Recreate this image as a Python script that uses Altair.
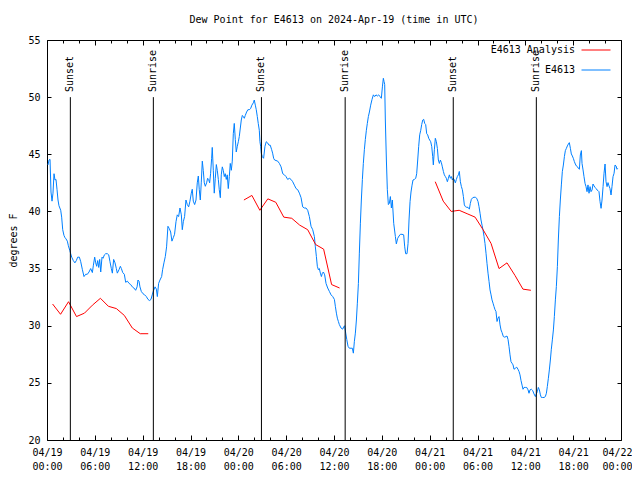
import altair as alt
import pandas as pd

# ---------------- data ----------------
obs_hours = [
    0.13, 0.25, 0.38, 0.5, 0.63, 0.75, 0.88, 1.0, 1.13, 1.26, 1.38, 1.5, 1.72, 1.84, 1.97, 2.13, 2.26, 2.38,
    2.55, 2.68, 2.85, 2.97, 3.1, 3.3, 3.5, 3.68, 3.85, 4.06, 4.23, 4.44, 4.64, 4.85, 5.06, 5.27, 5.48, 5.69,
    5.82, 5.98, 6.11, 6.23, 6.36, 6.48, 6.61, 6.74, 6.9, 7.03, 7.2, 7.36, 7.57, 7.74, 7.9, 8.07, 8.2, 8.36,
    8.53, 8.7, 8.82, 9.03, 9.2, 9.33, 9.5, 9.7, 9.87, 10.08, 10.3, 10.5, 10.7, 10.9, 11.12, 11.3, 11.41,
    11.54, 11.66, 11.83, 12.04, 12.25, 12.46, 12.67, 12.87, 13.04, 13.2, 13.38, 13.55, 13.72, 13.84, 14.0,
    14.17, 14.38, 14.5, 14.67, 14.84, 15.0, 15.17, 15.34, 15.51, 15.67, 15.84, 16.0, 16.18, 16.34, 16.51,
    16.68, 16.85, 16.97, 17.1, 17.26, 17.43, 17.6, 17.77, 17.93, 18.1, 18.22, 18.35, 18.52, 18.69, 18.85,
    18.98, 19.1, 19.23, 19.35, 19.48, 19.6, 19.73, 19.86, 20.02, 20.15, 20.27, 20.4, 20.52, 20.65, 20.73,
    20.86, 20.98, 21.11, 21.24, 21.36, 21.49, 21.61, 21.74, 21.86, 21.99, 22.11, 22.24, 22.36, 22.49, 22.61,
    22.74, 22.87, 22.99, 23.12, 23.24, 23.37, 23.49, 23.62, 23.74, 23.87, 24.0, 24.12, 24.25, 24.37, 24.5,
    24.62, 24.75, 24.87, 25.04, 25.2, 25.37, 25.54, 25.7, 25.88, 26.0, 26.13, 26.25, 26.38, 26.5, 26.63,
    26.71, 26.8, 26.88, 27.0, 27.17, 27.34, 27.5, 27.67, 27.84, 28.0, 28.18, 28.3, 28.43, 28.55,
    28.94, 29.15, 29.36, 29.57, 29.78, 29.98, 30.19, 30.4, 30.61, 30.82, 31.03, 31.24, 31.45, 31.66, 31.87,
    32.07, 32.28, 32.49, 32.7, 32.91, 33.12, 33.33, 33.54, 33.66, 33.79, 33.91, 34.04, 34.16, 34.29, 34.42,
    34.54, 34.67, 34.83, 35.0, 35.21, 35.42, 35.63, 35.84, 36.05, 36.17, 36.3, 36.42, 36.55, 36.67, 36.88,
    37.09, 37.22, 37.34, 37.47, 37.6, 37.76, 37.93, 38.14, 38.3, 38.43, 38.55, 38.68, 38.81, 38.93, 39.06,
    39.18, 39.31, 39.43, 39.56, 39.68, 39.81, 39.93, 40.06, 40.18, 40.31, 40.44, 40.6, 40.77, 40.94, 41.1,
    41.27, 41.44, 41.6, 41.77, 41.94, 42.07, 42.19, 42.28, 42.36, 42.44, 42.57, 42.69, 42.82, 42.94, 43.07,
    43.2, 43.32, 43.49, 43.7, 43.82, 43.99, 44.16, 44.33, 44.53, 44.74, 44.87, 44.99, 45.16, 45.29, 45.41,
    45.54, 45.66, 45.79, 45.91, 46.08, 46.25, 46.37, 46.5, 46.62, 46.75, 46.88, 47.0, 47.13, 47.25, 47.38,
    47.5, 47.63, 47.75, 47.88, 48.0, 48.13, 48.26, 48.38, 48.46, 48.59, 48.71, 48.84, 48.97, 49.09, 49.22,
    49.34, 49.47, 49.59, 49.72, 49.84, 49.97, 50.09, 50.22, 50.35, 50.47, 50.6, 50.72, 50.85, 50.97, 51.1,
    51.22, 51.35, 51.47, 51.6, 51.72, 51.85, 51.98, 52.1, 52.23, 52.35, 52.48, 52.64, 52.81, 52.98, 53.1,
    53.23, 53.4, 53.56, 53.73, 53.9, 54.07, 54.19, 54.32, 54.44, 54.57, 54.69, 54.82, 54.94, 55.07, 55.19,
    55.32, 55.45, 55.57, 55.7, 55.82, 55.95, 56.07, 56.2, 56.32, 56.45, 56.57, 56.7, 56.83, 56.95, 57.08,
    57.24, 57.41, 57.58, 57.7, 57.83, 57.95, 58.08, 58.2, 58.33, 58.46, 58.58, 58.75, 58.92, 59.08, 59.21,
    59.33, 59.46, 59.59, 59.71, 59.84, 60.0, 60.17, 60.34, 60.46, 60.59, 60.76, 60.92, 61.09, 61.26, 61.38,
    61.51, 61.63, 61.76, 61.89, 62.01, 62.18, 62.35, 62.51, 62.64, 62.76, 62.89, 63.01, 63.14, 63.26, 63.39,
    63.52, 63.64, 63.77, 63.89, 64.02, 64.14, 64.27, 64.39, 64.52, 64.64, 64.77, 64.9, 65.02, 65.15, 65.27,
    65.4, 65.52, 65.65, 65.77, 65.9, 66.02, 66.15, 66.27, 66.4, 66.53, 66.65, 66.78, 66.9, 67.03, 67.11,
    67.24, 67.36, 67.49, 67.61, 67.74, 67.86, 67.99, 68.12, 68.24, 68.37, 68.49, 68.62, 68.74, 68.87, 68.99,
    69.12, 69.24, 69.37, 69.5, 69.62, 69.75, 69.87, 70.0, 70.12, 70.25, 70.37, 70.5, 70.62, 70.75, 70.87,
    71.0, 71.13, 71.25, 71.38, 71.5, 71.59,
]
obs_dewpt = [
    44.07, 44.5, 44.56, 41.7, 40.9, 41.6, 43.3, 42.75, 42.8, 41.9, 41.0, 40.5, 40.1, 39.5, 38.4, 37.9, 37.7, 37.6,
    37.4, 37.0, 36.6, 36.3, 36.0, 35.7, 35.5, 35.7, 36.0, 36.0, 35.6, 34.9, 34.3, 34.5, 34.5, 34.7, 35.0, 34.65,
    35.3, 36.0, 35.5, 35.2, 35.7, 35.1, 35.8, 34.7, 36.0, 35.9, 36.2, 36.3, 36.3, 36.2, 35.6, 35.0, 34.6, 35.8,
    35.5, 35.0, 34.6, 34.9, 35.2, 35.0, 34.65, 34.5, 33.8, 33.9, 33.7, 33.6, 33.4, 33.3, 33.1, 33.4, 34.0,
    33.9, 33.4, 33.0, 32.8, 32.7, 32.55, 32.3, 32.2, 32.3, 32.7, 33.1, 33.4, 33.2, 32.55, 33.7,
    34.0, 34.3, 34.9, 35.5, 36.05, 36.9, 38.7, 38.5, 38.2, 37.4, 37.7, 38.0, 39.1, 39.7, 39.55,
    40.3, 39.7, 38.4, 39.1, 39.55, 41.0, 40.6, 40.4, 40.9, 41.6, 41.94, 40.9, 40.6, 41.0, 42.5,
    43.1, 41.9, 41.0, 42.5, 44.4, 43.6, 42.5, 42.2, 42.5, 42.9, 42.8, 42.5, 43.3, 44.65, 45.6,
    43.6, 41.6, 42.9, 44.1, 43.6, 42.8, 41.9, 41.2, 43.2, 43.9, 43.6, 43.05, 43.3, 42.8, 43.2,
    42.0, 43.05, 44.2, 43.6, 44.4, 46.8, 47.7, 46.3, 45.2, 45.7, 46.1, 46.55, 47.3, 48.0, 48.4,
    48.3, 48.15, 48.4, 48.7, 48.9, 48.9, 49.0, 49.3, 49.5, 49.75, 49.3, 48.9, 48.3, 47.7, 47.1,
    46.1, 45.7, 45.1, 44.8, 44.65, 45.7, 46.1, 46.0, 45.8, 45.8, 45.4, 45.1, 44.65, 44.5,
    44.4, 44.2, 43.9, 43.3, 43.2, 43.05, 42.8, 42.9, 42.8, 42.6, 42.3, 42.0, 41.9, 41.6, 41.2,
    40.4, 40.3, 40.3, 40.1, 39.55, 38.7, 38.4, 37.8, 36.9, 36.05, 35.2, 34.9, 35.0, 34.6, 34.3,
    34.6, 34.7, 34.45, 33.7, 33.3, 33.0, 32.7, 32.55, 32.3, 31.7, 31.1, 30.66, 30.37, 30.1, 29.8,
    29.7, 29.9, 30.0, 29.35, 28.8, 28.2, 28.03, 28.03, 28.03, 27.6, 28.6, 29.35, 30.5, 31.97, 33.7,
    36.35, 38.97, 41.0, 42.8, 44.2, 45.4, 46.3, 47.1, 47.7, 48.3, 48.7, 49.3, 49.8, 50.2, 50.05,
    50.2, 50.1, 50.2, 50.05, 49.9, 50.9, 51.65, 51.36, 51.1, 48.0, 44.5, 41.9, 40.6, 40.7, 41.3,
    40.3, 41.0, 38.96, 37.8, 37.16, 37.65, 37.85, 38.0, 38.0, 37.95, 36.9, 36.3, 36.3, 37.2, 39.25,
    40.86, 41.7, 42.3, 42.75, 42.8, 42.9, 43.3, 44.5, 45.67, 46.7, 47.1, 47.6, 48.0, 48.06, 47.7,
    47.6, 46.8, 46.7, 46.4, 46.25, 46.1, 45.67, 44.8, 44.07, 45.4, 46.4, 46.1, 45.5, 44.5, 44.2,
    44.5, 44.27, 43.9, 43.5, 43.2, 43.05, 42.9, 42.6, 42.9, 43.2, 42.9, 43.05, 42.75, 42.9, 42.75,
    42.5, 42.8, 43.05, 43.2, 43.5, 42.6, 42.17, 41.9, 41.3, 40.57, 40.42, 40.36, 40.36, 40.2, 40.7,
    41.06, 41.2, 41.24, 41.24, 41.15, 40.86, 40.42, 39.84, 39.25, 38.8, 38.38, 37.8, 37.2, 36.34, 35.46,
    34.6, 33.86, 33.13, 32.7, 32.26, 31.97, 31.68, 31.4, 31.24, 30.37, 30.66, 30.8, 30.07, 29.63, 29.4,
    29.05, 29.0, 29.05, 29.1, 28.8, 28.2, 27.45, 26.86, 26.72, 26.57, 26.19, 26.28, 26.37, 26.19, 25.99,
    25.7, 25.2, 24.8, 24.44, 24.6, 24.6, 24.6, 24.39, 24.09, 24.39, 24.44, 24.33, 24.03, 23.8, 24.03,
    24.24, 24.6, 24.39, 23.95, 23.72, 23.72, 23.72, 23.8, 24.09, 24.68, 25.4, 26.13, 27.0, 27.94, 28.76,
    29.63, 30.8, 32.26, 33.42, 35.17, 37.5, 39.55, 41.0, 42.32, 43.48, 44.06, 44.8, 45.32, 45.52, 45.73,
    45.9, 46.02, 45.52, 45.03, 44.85, 44.65, 44.36, 44.15, 43.98, 43.92, 43.77, 43.69, 44.94, 45.32, 44.2,
    43.63, 43.04, 42.46, 42.17, 41.73, 42.32, 41.59, 42.17, 41.73, 41.88, 42.4, 42.23, 42.11, 42.0, 41.88,
    41.82, 41.73, 40.86, 40.27, 41.0, 42.17, 43.34, 44.15, 42.61, 42.17, 42.52, 42.23, 42.0, 41.44, 42.17,
    43.04, 43.34, 44.06, 43.98, 43.69, 43.77,
]

ana_hours = [
    0.7, 1.7, 2.7, 3.7, 4.7, 5.7, 6.7, 7.7, 8.7, 9.7, 10.7, 11.7, 12.7,
    24.7, 25.7, 26.7, 27.7, 28.7, 29.7, 30.7, 31.7, 32.7, 33.7, 34.7, 35.7, 36.7,
    48.7, 49.7, 50.7, 51.7, 52.7, 53.7, 54.7, 55.7, 56.7, 57.7, 58.7, 59.7, 60.7,
]
ana_dewpt = [
    31.9, 31.0, 32.1, 30.8, 31.1, 31.8, 32.4, 31.7, 31.5, 30.9, 29.8, 29.3, 29.3,
    41.0, 41.4, 40.1, 41.1, 40.8, 39.5, 39.4, 38.8, 38.4, 37.1, 36.7, 33.6, 33.3,
    42.6, 40.9, 40.0, 40.1, 39.8, 39.5, 38.4, 37.2, 35.0, 35.5, 34.4, 33.2, 33.1,
]
ana_run = [1] * 13 + [2] * 13 + [3] * 13

sun_hours = [2.93, 13.34, 26.9, 37.4, 50.96, 61.38]
sun_labels = ["Sunset", "Sunrise", "Sunset", "Sunrise", "Sunset", "Sunrise"]

series_names = ["E4613 Analysis", "E4613"]
series_colors = ["#ff0000", "#0080ff"]

x_major = [0, 6, 12, 18, 24, 30, 36, 42, 48, 54, 60, 66, 72]
x_minor = list(range(0, 73, 2))
y_ticks = [20, 25, 30, 35, 40, 45, 50, 55]

# ---------------- chart ----------------
FONT = "DejaVu Sans Mono"
W, H = 574, 400

obs = pd.DataFrame({"h": obs_hours, "v": obs_dewpt, "series": series_names[1]})
ana = pd.DataFrame({"h": ana_hours, "v": ana_dewpt, "run": ana_run, "series": series_names[0]})
sun = pd.DataFrame({"h": sun_hours, "label": sun_labels})

xscale = alt.Scale(domain=[0, 72], nice=False, zero=False)
yscale = alt.Scale(domain=[20, 55], nice=False, zero=False)
cscale = alt.Scale(domain=series_names, range=series_colors)

# inward ticks: negative tick sizes (major every 6 h, minor every 2 h)
x_tick_size = {"expr": "datum.value % 6 === 0 ? -5 : -3"}
y_tick_size = {"expr": "-4"}

x_label_axis = alt.Axis(
    orient="bottom", values=x_major, ticks=False, domain=False, grid=False, title=None,
    labelExpr="['04/' + (19 + floor(datum.value / 24)), format(datum.value % 24, '02d') + ':00']",
    labelFont=FONT, labelFontSize=10, labelColor="black", labelPadding=7, labelLineHeight=14,
    labelFlush=False, labelOverlap=False,
    labelOffset={"expr": "datum.value === 72 ? -4 : 0"},
)
x_ticks_bottom = alt.Axis(
    orient="bottom", values=x_minor, tickSize=x_tick_size, tickColor="black",
    labels=False, domain=False, grid=False, title=None, minExtent=0, maxExtent=0,
)
x_ticks_top = alt.Axis(
    orient="top", values=x_minor, tickSize=x_tick_size, tickColor="black",
    labels=False, domain=False, grid=False, title=None, minExtent=0, maxExtent=0,
)
y_label_axis = alt.Axis(
    orient="left", values=y_ticks, ticks=False, domain=False, grid=False,
    labelFont=FONT, labelFontSize=10, labelColor="black", labelPadding=7,
    title="degrees F", titleFont=FONT, titleFontSize=10, titleFontWeight="normal",
    titleColor="black", titleX=-34, titleY=H / 2, titleAlign="center", titleBaseline="middle",
    titleAngle=270,
)
y_ticks_left = alt.Axis(
    orient="left", values=y_ticks, tickSize=y_tick_size, tickColor="black",
    labels=False, domain=False, grid=False, title=None, minExtent=0, maxExtent=0,
)
y_ticks_right = alt.Axis(
    orient="right", values=y_ticks, tickSize=y_tick_size, tickColor="black",
    labels=False, domain=False, grid=False, title=None, minExtent=0, maxExtent=0,
)

# gnuplot-style key: label on the left, coloured line sample on the right
legend = alt.Legend(
    orient="none", legendX=534, legendY=-5, title=None, symbolType="stroke",
    symbolSize=841, symbolStrokeWidth=1,
    labelFont=FONT, labelFontSize=10, labelColor="black", labelAlign="right",
    labelOffset={"expr": "-36"}, rowPadding={"expr": "-6.5"}, padding=0,
)

blue = alt.Chart(obs).mark_line(strokeWidth=1).encode(
    x=alt.X("h:Q", scale=xscale, axis=x_label_axis),
    y=alt.Y("v:Q", scale=yscale, axis=y_label_axis),
    color=alt.Color("series:N", scale=cscale, legend=legend),
)

red = alt.Chart(ana).mark_line(strokeWidth=1).encode(
    x=alt.X("h:Q", scale=xscale, axis=x_ticks_bottom),
    y=alt.Y("v:Q", scale=yscale, axis=y_ticks_left),
    color=alt.Color("series:N", scale=cscale, legend=legend),
    detail="run:N",
)

rules = alt.Chart(sun).mark_rule(color="black", strokeWidth=1).encode(
    x=alt.X("h:Q", scale=xscale, axis=x_ticks_top),
    y=alt.YDatum(50, type="quantitative", scale=yscale, axis=y_ticks_right),
    y2=alt.datum(20),
)

labels = alt.Chart(sun).mark_text(
    angle=270, align="left", baseline="middle", font=FONT, fontSize=10, color="black"
).encode(
    x=alt.X("h:Q", scale=xscale, axis=None),
    y=alt.YDatum(50.45, type="quantitative", scale=yscale, axis=None),
    text="label:N",
)

chart = (
    alt.layer(blue, red, rules, labels)
    .resolve_axis(x="independent", y="independent")
    .properties(
        width=W, height=H,
        autosize=alt.AutoSizeParams(type="none"),
        padding={"left": 39, "top": 32, "right": 11, "bottom": 32},
        title=alt.Title(
            "Dew Point for E4613 on 2024-Apr-19 (time in UTC)",
            font=FONT, fontSize=10, fontWeight="normal", color="black",
            anchor="middle", offset=17, baseline="bottom", dy=17,
        ),
        background="white",
    )
    .configure_view(stroke="black", strokeWidth=1)
)

chart.save("out.html", embed_options={"renderer": "svg", "actions": False})
